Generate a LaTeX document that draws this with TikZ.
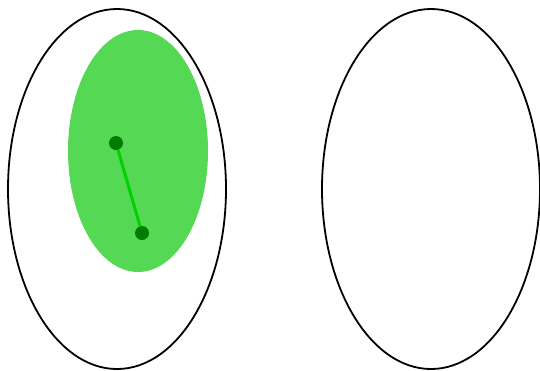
\documentclass[tikz,border=0pt]{standalone}
\usetikzlibrary{shapes.geometric}
\definecolor{setfill}{RGB}{85,217,85}
\definecolor{dotgreen}{RGB}{0,125,0}
\definecolor{edgegreen}{RGB}{0,210,0}
\begin{document}
\begin{tikzpicture}[x=1pt, y=-1pt, every node/.style={inner sep=0pt, outer sep=0pt}]
  \useasboundingbox (0,0) rectangle (540,370);
  \node[draw,ellipse,line width=1.8pt,minimum width=218pt,minimum height=360pt] (domain) at (117,189) {};
  \node[draw,ellipse,line width=1.8pt,minimum width=218pt,minimum height=360pt] (codomain) at (431,189) {};
  \node[fill=setfill,ellipse,minimum width=140pt,minimum height=242pt] (subset) at (138,151) {};
  % two points joined inside the subset
  \node[fill=dotgreen,circle,minimum size=14pt] (p) at (116,143) {};
  \node[fill=dotgreen,circle,minimum size=14pt] (q) at (142,233) {};
  \draw[edgegreen,line width=3pt] (p) -- (q);
\end{tikzpicture}
\end{document}
